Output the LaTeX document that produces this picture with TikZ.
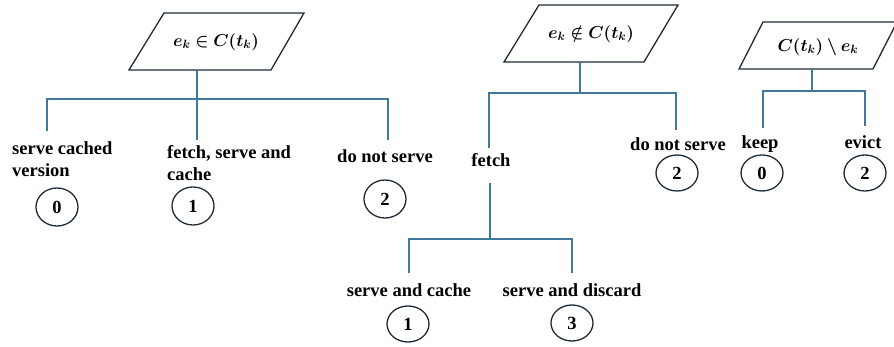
\documentclass[tikz,border=0pt]{standalone}
\usepackage{fontspec}
\setmainfont{Liberation Serif}
\usepackage{amsmath}
\usepackage{bm}
\usetikzlibrary{shapes.geometric}
\definecolor{conncol}{HTML}{41789E}
\definecolor{edgecol}{HTML}{1E2B38}
\tikzset{
  conn/.style={draw=conncol, line width=1.4pt},
  pgram/.style={draw=edgecol, line width=1.3pt, line join=miter},
  lbl/.style={font=\fontsize{18.5}{22}\selectfont\bfseries, inner sep=0pt, text=black},
  num/.style={ellipse, draw=edgecol, line width=1.3pt, minimum width=42pt, minimum height=36pt, inner sep=0pt, font=\fontsize{18.5}{22}\selectfont\bfseries},
  mathlbl/.style={font=\fontsize{18}{21}\selectfont, inner sep=0pt}
}
\begin{document}
\begin{tikzpicture}[x=1pt,y=-1pt]
\useasboundingbox (0,0) rectangle (894,347);

% ---------- tree 1 ----------
\draw[pgram] (164,13) -- (304,13) -- (271,70) -- (129,70) -- cycle;
\node[mathlbl] (t1) at (216,42) {$\bm{e_k \in C(t_k)}$};
\coordinate (p1b) at (197,70);
\coordinate (j1) at (197,99);
\coordinate (l1) at (47,99);
\coordinate (r1) at (388,99);
\coordinate (a1) at (47,131);
\coordinate (b1) at (197,140);
\coordinate (c1) at (388,140);
\draw[conn] (p1b) -- (b1);
\draw[conn] (a1) -- (l1) -- (r1) -- (c1);
\node[lbl, anchor=west, align=left] (la1) at (12,159) {serve cached\\version};
\node[lbl, anchor=west, align=left] (lb1) at (167,163) {fetch, serve and\\cache};
\node[lbl] (lc1) at (385,156) {do not serve};
\node[num, minimum height=38pt] (n10) at (57,207) {0};
\node[num, minimum height=38pt] (n11) at (193,206) {1};
\node[num, minimum height=38pt] (n12) at (385,199) {2};

% ---------- tree 2 ----------
\draw[pgram] (539,5) -- (678,5) -- (644,62) -- (504,62) -- cycle;
\node[mathlbl] (t2) at (591,34) {$\bm{e_k \mathrel{\notin} C(t_k)}$};
\coordinate (p2b) at (580,62);
\coordinate (j2) at (580,93);
\coordinate (l2) at (489,93);
\coordinate (r2) at (676,93);
\coordinate (a2) at (489,148);
\coordinate (c2) at (676,130);
\draw[conn] (p2b) -- (j2);
\draw[conn] (a2) -- (l2) -- (r2) -- (c2);
\node[lbl] (fetch) at (491,160) {fetch};
\node[lbl] (lc2) at (678,144) {do not serve};
\node[num] (n22) at (677,173) {2};
\coordinate (f1) at (490,183);
\coordinate (f2) at (490,239);
\coordinate (fl) at (409,239);
\coordinate (fr) at (572,239);
\coordinate (fa) at (409,273);
\coordinate (fb) at (572,273);
\draw[conn] (f1) -- (f2);
\draw[conn] (fa) -- (fl) -- (fr) -- (fb);
\node[lbl] (sc) at (409,290) {serve and cache};
\node[lbl] (sd) at (572,290) {serve and discard};
\node[num] (n31) at (408,324) {1};
\node[num] (n33) at (572,323) {3};

% ---------- tree 3 ----------
\draw[pgram] (763,22) -- (897,22) -- (873,69) -- (739,69) -- cycle;
\node[mathlbl] (t3) at (818,47) {$\bm{C(t_k) \setminus e_k}$};
\coordinate (p3b) at (812,69);
\coordinate (j3) at (812,91);
\coordinate (l3) at (763,91);
\coordinate (r3) at (865,91);
\coordinate (a3) at (763,128);
\coordinate (c3) at (865,126);
\draw[conn] (p3b) -- (j3);
\draw[conn] (a3) -- (l3) -- (r3) -- (c3);
\node[lbl] (keep) at (760,144) {keep};
\node[lbl] (evict) at (863,142) {evict};
\node[num] (n40) at (762,173) {0};
\node[num] (n42) at (865,173) {2};
\end{tikzpicture}
\end{document}
